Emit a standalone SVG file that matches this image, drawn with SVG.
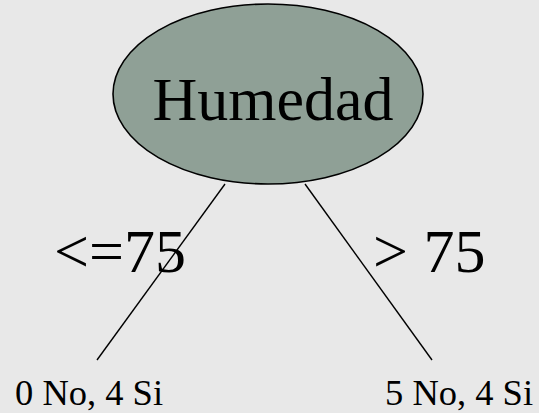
<svg xmlns="http://www.w3.org/2000/svg" width="539" height="413" viewBox="0 0 539 413">
  <style>
    text { font-family: 'Liberation Serif', 'DejaVu Serif', serif; fill: #000; }
    .big { font-size: 62px; }
    .small { font-size: 36.5px; }
    .edge { stroke: #000; stroke-width: 1.4; fill: none; }
  </style>
  <rect width="539" height="413" fill="#e8e8e8"/>
  <g id="connectors">
    <line class="edge" x1="225" y1="184" x2="97" y2="360"/>
    <line class="edge" x1="305" y1="184" x2="432" y2="360"/>
  </g>
  <g id="node-humedad">
    <ellipse cx="268" cy="94" rx="155" ry="90" fill="#8fa096" stroke="#000" stroke-width="1.6"/>
    <text class="big" x="273" y="120" text-anchor="middle" font-family="Liberation Serif, serif">Humedad</text>
  </g>
  <g id="edge-label-left">
    <text class="big" x="54" y="272" font-family="Liberation Serif, serif">&lt;=75</text>
  </g>
  <g id="edge-label-right">
    <text class="big" x="373" y="272" font-family="Liberation Serif, serif">&gt; 75</text>
  </g>
  <g id="leaf-left">
    <text class="small" x="15" y="405" font-family="Liberation Serif, serif">0 No, 4 Si</text>
  </g>
  <g id="leaf-right">
    <text class="small" x="385" y="405" font-family="Liberation Serif, serif">5 No, 4 Si</text>
  </g>
</svg>
